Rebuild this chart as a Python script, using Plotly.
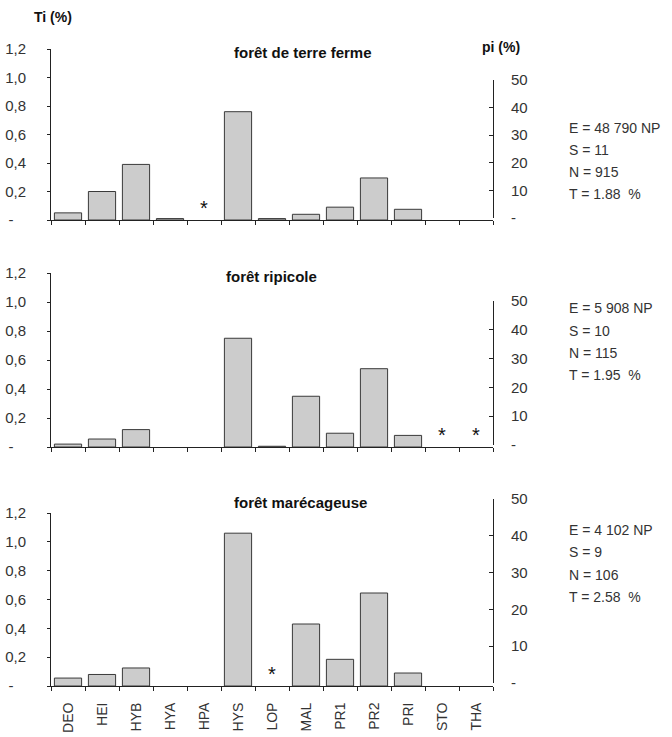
import plotly.graph_objects as go

W, H = 672, 737

categories = ["DEO", "HEI", "HYB", "HYA", "HPA", "HYS", "LOP", "MAL", "PR1", "PR2", "PRI", "STO", "THA"]

panel_titles = ["forêt de terre ferme", "forêt ripicole", "forêt marécageuse"]

ti_terre_ferme = [0.05, 0.20, 0.39, 0.01, None, 0.76, 0.01, 0.04, 0.09, 0.295, 0.075, None, None]
ti_ripicole = [0.02, 0.055, 0.12, None, None, 0.75, 0.005, 0.35, 0.095, 0.54, 0.08, None, None]
ti_marecageuse = [0.055, 0.08, 0.125, None, None, 1.06, None, 0.43, 0.185, 0.645, 0.09, None, None]

stars_terre_ferme = ["HPA"]
stars_ripicole = ["STO", "THA"]
stars_marecageuse = ["LOP"]

stats_E = ["E = 48 790 NP", "E = 5 908 NP", "E = 4 102 NP"]
stats_S = ["S = 11", "S = 10", "S = 9"]
stats_N = ["N = 915", "N = 115", "N = 106"]
stats_T = ["T = 1.88  %", "T = 1.95  %", "T = 2.58  %"]

ti_ticks = [0, 0.2, 0.4, 0.6, 0.8, 1.0, 1.2]
ti_ticklabels = ["-\u00a0\u00a0\u00a0", "0,2", "0,4", "0,6", "0,8", "1,0", "1,2"]
pi_ticks = [0, 10, 20, 30, 40, 50]
pi_ticklabels = ["-", "10", "20", "30", "40", "50"]

series = [ti_terre_ferme, ti_ripicole, ti_marecageuse]
stars = [stars_terre_ferme, stars_ripicole, stars_marecageuse]

# ---- layout geometry (page pixels) ----
def px(x):
    return x / W

def py(y):
    return 1 - y / H

x_dom = [px(51), px(493)]
left_px = [(220, 49), (447, 273), (686, 513)]
right_px = [(218, 80), (445, 301), (683, 499)]
title_pos = [(303, 52), (271, 277), (300, 502)]
stats_pos = [(567, [128, 150, 172, 194]), (567, [308, 331, 353, 375]), (567, [530, 552, 575, 597])]

FONT = "Liberation Sans, Arial, sans-serif"
AXC = "#222222"

fig = go.Figure()
layout = dict(
    width=W, height=H,
    margin=dict(l=0, r=0, t=0, b=0, autoexpand=False),
    paper_bgcolor="white", plot_bgcolor="rgba(0,0,0,0)",
    showlegend=False,
    bargap=0.2,
    font=dict(family=FONT, size=15, color="#333333"),
)
annotations = []

for i in range(3):
    xn = "x" if i == 0 else f"x{i+1}"
    yl = "y" if i == 0 else f"y{i+1}"
    yr = f"y{i+4}"
    xkey = "xaxis" if i == 0 else f"xaxis{i+1}"
    ylkey = "yaxis" if i == 0 else f"yaxis{i+1}"
    yrkey = f"yaxis{i+4}"

    fig.add_trace(go.Bar(
        x=categories, y=series[i], xaxis=xn, yaxis=yl,
        marker=dict(color="#cccccc", line=dict(color="#3a3a3a", width=1)),
        hoverinfo="x+y",
    ))
    fig.add_trace(go.Scatter(
        x=stars[i], y=[0] * len(stars[i]), xaxis=xn, yaxis=yl,
        mode="text", text=["*"] * len(stars[i]), textposition="top center",
        textfont=dict(size=20, color="#111111", family=FONT),
    ))
    fig.add_trace(go.Scatter(x=[], y=[], xaxis=xn, yaxis=yr, mode="markers"))

    z, t = left_px[i]
    layout[xkey] = dict(
        domain=x_dom, anchor=yl, type="category", categoryorder="array",
        categoryarray=categories, range=[-0.5, 12.5], automargin=False,
        showline=True, linecolor=AXC, linewidth=1,
        ticks="outside", ticklen=4, tickcolor=AXC, tickson="boundaries",
        showgrid=False, zeroline=False, fixedrange=True,
        showticklabels=(i == 2), tickangle=-90, ticklabelstandoff=10,
        tickfont=dict(size=14, family=FONT, color="#333333"),
    )
    layout[ylkey] = dict(
        domain=[py(z), py(t)], anchor=xn, range=[0, 1.2], automargin=False,
        tickvals=ti_ticks, ticktext=ti_ticklabels,
        showline=True, linecolor=AXC, linewidth=1,
        ticks="outside", ticklen=3, tickcolor=AXC,
        showgrid=False, zeroline=False, fixedrange=True,
        ticklabelstandoff=18,
        tickfont=dict(size=15, family=FONT, color="#333333"),
    )
    rz, rt = right_px[i]
    layout[yrkey] = dict(
        domain=[py(rz), py(rt)], anchor=xn, side="right", range=[0, 50],
        automargin=False,
        tickvals=pi_ticks, ticktext=pi_ticklabels,
        showline=True, linecolor=AXC, linewidth=1,
        ticks="inside", ticklen=4, tickcolor=AXC,
        showgrid=False, zeroline=False, fixedrange=True,
        ticklabelstandoff=14,
        tickfont=dict(size=15, family=FONT, color="#333333"),
    )

    tx, ty = title_pos[i]
    annotations.append(dict(
        x=px(tx), y=py(ty), xref="paper", yref="paper", showarrow=False,
        xanchor="center", yanchor="middle", text=f"<b>{panel_titles[i]}</b>",
        font=dict(size=15, family=FONT, color="#111111"),
    ))
    sx, sys_ = stats_pos[i]
    for txt, yy in zip([stats_E[i], stats_S[i], stats_N[i], stats_T[i]], sys_):
        annotations.append(dict(
            x=px(sx), y=py(yy), xref="paper", yref="paper", showarrow=False,
            xanchor="left", yanchor="middle", text=txt,
            font=dict(size=14, family=FONT, color="#333333"),
        ))

annotations.append(dict(
    x=px(32), y=py(17), xref="paper", yref="paper", showarrow=False,
    xanchor="left", yanchor="middle", text="<b>Ti (%)</b>",
    font=dict(size=14, family=FONT, color="#111111"),
))
annotations.append(dict(
    x=px(480), y=py(47), xref="paper", yref="paper", showarrow=False,
    xanchor="left", yanchor="middle", text="<b>pi (%)</b>",
    font=dict(size=14, family=FONT, color="#111111"),
))

layout["annotations"] = annotations
fig.update_layout(**layout)
fig.write_html(
    "out.html",
    config={"displayModeBar": False, "staticPlot": True},
    post_script="document.body.style.margin='0';document.body.style.overflow='hidden';",
)
